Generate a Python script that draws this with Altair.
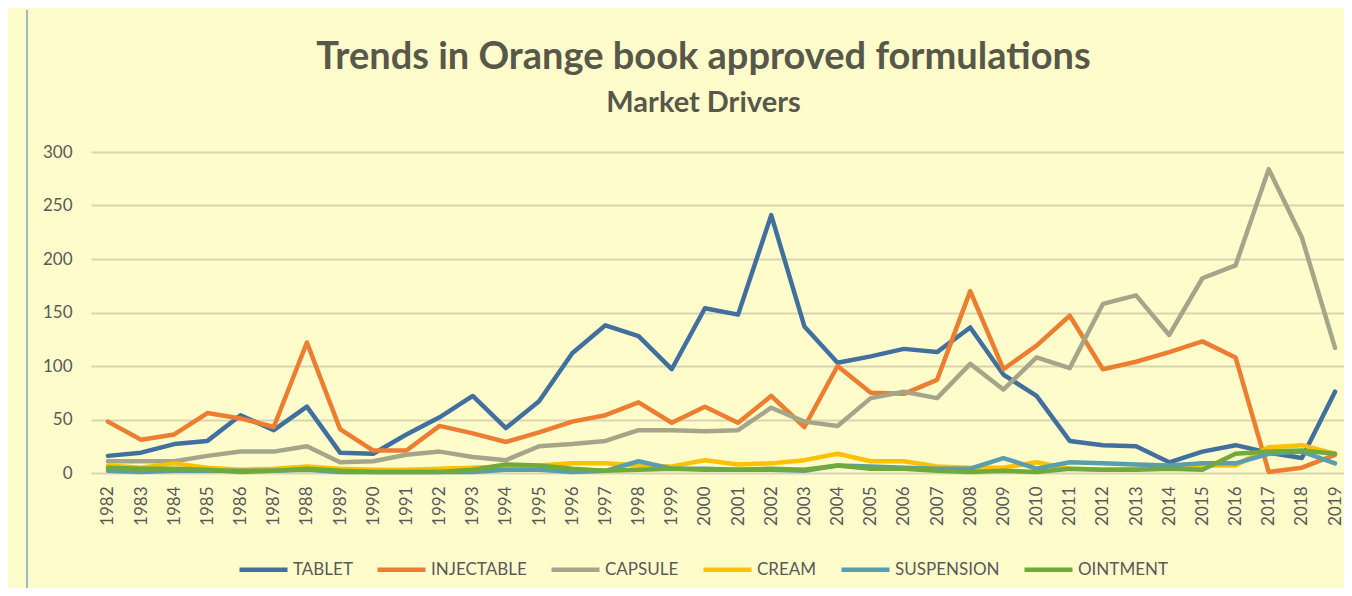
import altair as alt
import pandas as pd

years = list(range(1982, 2020))
tablet = [16, 19, 27, 30, 54, 40, 62, 19, 18, 36, 52, 72, 42, 67, 112, 138, 128, 97, 154, 148,
          241, 137, 103, 109, 116, 113, 136, 92, 72, 30, 26, 25, 10, 20, 26, 19, 14, 76]
injectable = [48, 31, 36, 56, 51, 43, 122, 41, 21, 21, 44, 37, 29, 38, 48, 54, 66, 47, 62, 47,
              72, 43, 100, 75, 74, 87, 170, 97, 119, 147, 97, 104, 113, 123, 108, 1, 5, 17]
capsule = [11, 11, 11, 16, 20, 20, 25, 10, 11, 17, 20, 15, 12, 25, 27, 30, 40, 40, 39, 40,
           61, 48, 44, 70, 76, 70, 102, 78, 108, 98, 158, 166, 129, 182, 194, 284, 220, 117]
cream = [7, 5, 9, 5, 3, 4, 6, 4, 3, 3, 4, 5, 6, 7, 9, 9, 7, 6, 12, 8,
         9, 12, 18, 11, 11, 6, 5, 5, 10, 4, 3, 4, 5, 7, 7, 24, 26, 18]
suspension = [2, 1, 2, 2, 2, 2, 3, 1, 1, 1, 1, 1, 3, 3, 1, 2, 11, 4, 4, 3,
              3, 2, 7, 6, 5, 4, 4, 14, 4, 10, 9, 8, 7, 9, 9, 18, 20, 9]
ointment = [5, 4, 4, 3, 1, 2, 4, 2, 1, 1, 1, 3, 8, 7, 4, 2, 3, 4, 3, 3,
            4, 3, 7, 4, 4, 2, 1, 2, 1, 4, 3, 3, 4, 3, 18, 20, 21, 18]

series_names = ["TABLET", "INJECTABLE", "CAPSULE", "CREAM", "SUSPENSION", "OINTMENT"]
series_values = [tablet, injectable, capsule, cream, suspension, ointment]
series_colors = ["#41709F", "#ED7D31", "#A5A589", "#FFC000", "#5A9DAE", "#6FAA3C"]

rows = []
for i, (name, vals) in enumerate(zip(series_names, series_values)):
    for y, v in zip(years, vals):
        rows.append({"year": y, "value": v, "series": name, "series_order": i})
df = pd.DataFrame(rows)

FONT = "Lato"
TXT = "#595959"

lines = alt.Chart(df).mark_line(strokeWidth=4.5, strokeJoin="round", strokeCap="round").encode(
    x=alt.X("year:Q",
            scale=alt.Scale(domain=[1981.49, 2019.27], nice=False, zero=False),
            axis=alt.Axis(values=years, format="d", labelAngle=270, title=None, grid=False,
                          ticks=False, domain=False, labelPadding=13, labelFontSize=17,
                          labelColor=TXT, labelFont=FONT, labelOverlap=False)),
    y=alt.Y("value:Q",
            scale=alt.Scale(domain=[0, 300], nice=False),
            axis=alt.Axis(values=[0, 50, 100, 150, 200, 250, 300], title=None, ticks=False,
                          domain=False, gridColor="#D8D5AE", gridWidth=2, labelPadding=19,
                          labelFontSize=17, labelColor=TXT, labelFont=FONT)),
    color=alt.Color("series:N",
                    scale=alt.Scale(domain=series_names, range=series_colors),
                    sort=series_names,
                    legend=alt.Legend(title=None, orient="none", direction="horizontal",
                                      legendX=146, legendY=391, symbolType="stroke",
                                      symbolSize=2304, symbolStrokeWidth=4.5,
                                      labelFontSize=17, labelColor=TXT, labelFont=FONT,
                                      labelOffset=3, columnPadding=15, columns=6)),
    order=alt.Order("series_order:Q"),
)

border = alt.Chart(pd.DataFrame({"k": [0]})).mark_rule(color="#4472C4", strokeWidth=1).encode(
    x=alt.value(-64), y=alt.value(-142), y2=alt.value(436)
)

chart = alt.layer(border, lines).properties(
    width=1253,
    height=321,
    title=alt.Title("Trends in Orange book approved formulations",
                    subtitle="Market Drivers",
                    fontSize=38, font=FONT, fontWeight="bold", color="#58584A",
                    subtitleFontSize=29, subtitleFont=FONT, subtitleFontWeight="bold",
                    subtitleColor="#58584A", subtitlePadding=12, anchor="middle",
                    offset=-108, dx=-14),
    autosize=alt.AutoSizeParams(type="none"),
    padding={"left": 83, "top": 144, "right": 0, "bottom": 115},
    background="#FFFCCC",
).configure_view(stroke=None)

chart.save("out.html", embed_options={"renderer": "svg", "actions": False})
